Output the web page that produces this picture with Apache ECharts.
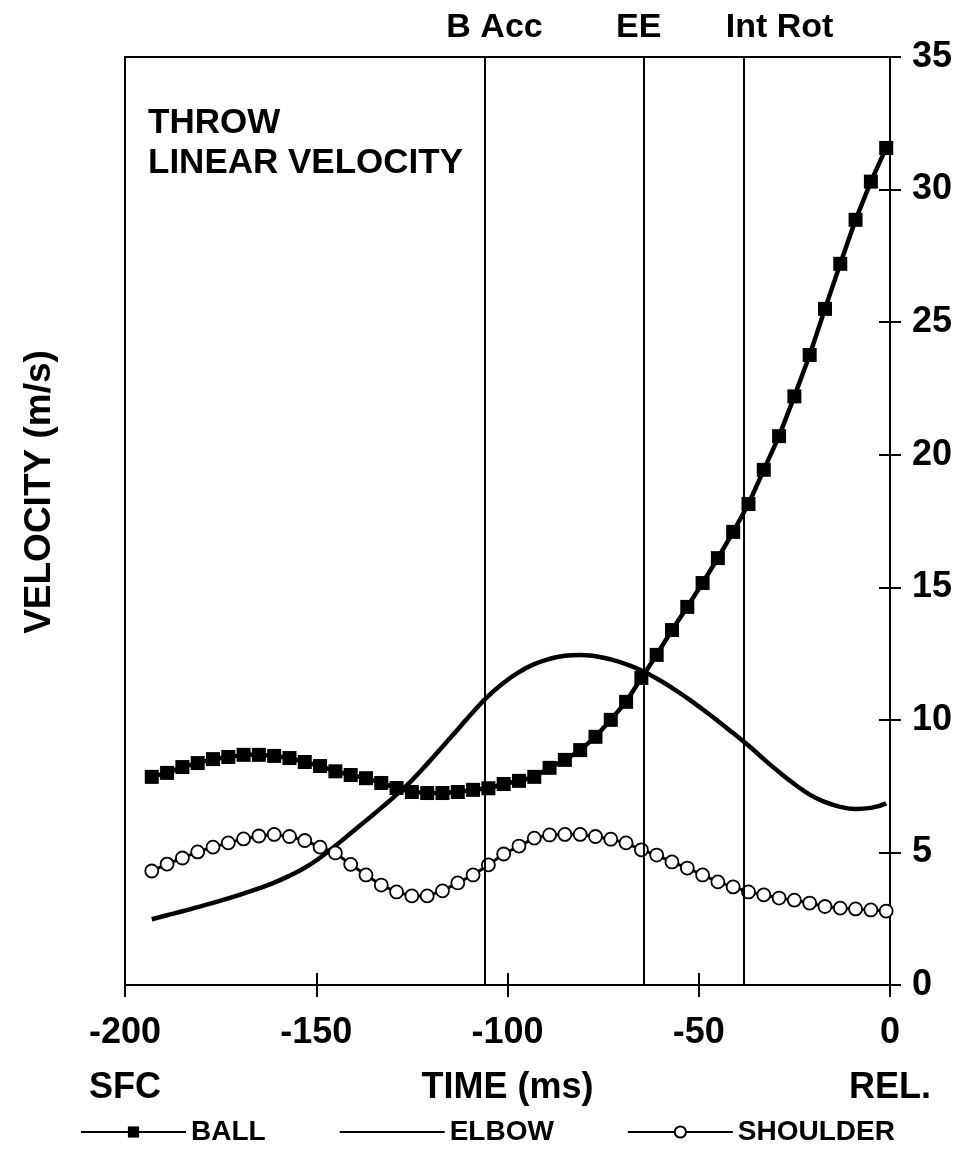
<!DOCTYPE html>
<html>
<head>
<meta charset="utf-8">
<script src="https://cdn.jsdelivr.net/npm/echarts@6/dist/echarts.min.js"></script>
<style>
  html, body { margin: 0; padding: 0; background: #fff; }
  #chart { width: 970px; height: 1161px; }
</style>
</head>
<body>
<div id="chart"></div>
<script>
// time (ms) relative to release, sampled every 4 ms
const times = [
  -193, -189, -185, -181, -177, -173, -169, -165, -161, -157,
  -153, -149, -145, -141, -137, -133, -129, -125, -121, -117,
  -113, -109, -105, -101, -97, -93, -89, -85, -81, -77,
  -73, -69, -65, -61, -57, -53, -49, -45, -41, -37,
  -33, -29, -25, -21, -17, -13, -9, -5, -1
]
const ball = [
  7.85, 8.0, 8.22, 8.37, 8.52, 8.6, 8.68, 8.68, 8.64, 8.56,
  8.41, 8.26, 8.06, 7.92, 7.8, 7.62, 7.43, 7.28, 7.24, 7.24,
  7.28, 7.36, 7.42, 7.58, 7.7, 7.85, 8.19, 8.49, 8.86, 9.36,
  10.0, 10.68, 11.58, 12.45, 13.39, 14.26, 15.16, 16.1, 17.09, 18.14,
  19.43, 20.7, 22.2, 23.76, 25.5, 27.2, 28.86, 30.3, 31.57
]
const elbow = [
  2.48, 2.63, 2.78, 2.94, 3.1, 3.27, 3.45, 3.64, 3.86, 4.12,
  4.42, 4.8, 5.25, 5.72, 6.2, 6.68, 7.18, 7.72, 8.34, 8.99,
  9.64, 10.3, 10.9, 11.4, 11.8, 12.1, 12.3, 12.42, 12.45, 12.4,
  12.28, 12.1, 11.86, 11.56, 11.21, 10.82, 10.4, 9.96, 9.5, 9.03,
  8.52, 8.03, 7.58, 7.18, 6.9, 6.72, 6.64, 6.68, 6.85
]
const shoulder = [
  4.3, 4.56, 4.79, 5.02, 5.2, 5.36, 5.51, 5.62, 5.68, 5.6,
  5.45, 5.2, 4.98, 4.55, 4.15, 3.77, 3.51, 3.36, 3.36, 3.55,
  3.85, 4.15, 4.53, 4.94, 5.24, 5.54, 5.66, 5.68, 5.68, 5.6,
  5.5, 5.36, 5.1, 4.9, 4.64, 4.41, 4.15, 3.89, 3.7, 3.51,
  3.4, 3.28, 3.2, 3.09, 2.96, 2.9, 2.87, 2.83, 2.79
]
// phase events (ms)
const eventNames = ['B Acc', 'EE', 'Int Rot']
const eventTimes = [-106, -64.4, -38.3]
const xPhaseLabels = { '-200': 'SFC', '-100': 'TIME (ms)', '0': 'REL.' }

const FONT = '"Liberation Sans", Arial, Helvetica, sans-serif'
const pair = (arr) => times.map((t, i) => [t, arr[i]])

const chart = echarts.init(document.getElementById('chart'), null, { renderer: 'canvas' })

const gridBox = { left: 125, right: 80, top: 57, bottom: 176 }
const tickStyle = { color: '#000', width: 2 }

const baseX = {
  type: 'value', min: -200, max: 0, interval: 50,
  position: 'bottom',
  splitLine: { show: false }
}
const baseY = {
  type: 'value', min: 0, max: 35, interval: 5,
  position: 'right',
  splitLine: { show: false }
}

chart.setOption({
  backgroundColor: '#fff',
  animation: false,
  textStyle: { fontFamily: FONT },
  title: {
    text: 'THROW\nLINEAR VELOCITY',
    left: 143, top: 98,
    textStyle: { fontFamily: FONT, fontWeight: 'bold', fontSize: 35, lineHeight: 40, color: '#000' }
  },
  // grid 1 only holds the tick marks that cross the axis lines
  grid: [
    Object.assign({ show: true, borderColor: '#000', borderWidth: 2 }, gridBox),
    Object.assign({ show: false }, gridBox)
  ],
  legend: {
    bottom: 10, left: 75,
    itemWidth: 105, itemHeight: 14, itemGap: 73,
    data: ['BALL', { name: 'ELBOW', itemStyle: { opacity: 0 } }, 'SHOULDER'],
    textStyle: { fontFamily: FONT, fontWeight: 'bold', fontSize: 28, color: '#000', width: 110 }
  },
  graphic: [{
    type: 'text', x: 40, y: 492, rotation: Math.PI / 2,
    style: {
      text: 'VELOCITY (m/s)', fill: '#000',
      font: 'bold 37px ' + FONT, align: 'center', verticalAlign: 'middle'
    }
  }],
  xAxis: [
    Object.assign({}, baseX, {
      gridIndex: 0,
      axisLine: { show: true, onZero: false, lineStyle: { color: '#000', width: 2 } },
      axisTick: { show: false },
      axisLabel: {
        margin: 21, color: '#000',
        formatter: (v) => {
          const sub = xPhaseLabels[String(v)]
          return sub ? '{a|' + v + '}\n{b|' + sub + '}' : '{a|' + v + '}'
        },
        rich: {
          a: { fontFamily: FONT, fontWeight: 'bold', fontSize: 36, lineHeight: 55, color: '#000' },
          b: { fontFamily: FONT, fontWeight: 'bold', fontSize: 36, lineHeight: 55, color: '#000' }
        }
      }
    }),
    Object.assign({}, baseX, {
      gridIndex: 1, offset: -12,
      axisLine: { show: false, onZero: false },
      axisTick: { show: true, inside: false, length: 24, lineStyle: tickStyle },
      axisLabel: { show: false }
    })
  ],
  yAxis: [
    Object.assign({}, baseY, {
      gridIndex: 0,
      axisLine: { show: true, onZero: false, lineStyle: { color: '#000', width: 2 } },
      axisTick: { show: false },
      axisLabel: {
        margin: 22, color: '#000',
        fontFamily: FONT, fontWeight: 'bold', fontSize: 36
      }
    }),
    Object.assign({}, baseY, {
      gridIndex: 1, offset: -11,
      axisLine: { show: false, onZero: false },
      axisTick: { show: true, inside: false, length: 22, lineStyle: tickStyle },
      axisLabel: { show: false }
    })
  ],
  series: [
    {
      name: 'ELBOW', type: 'line', smooth: 0.5, symbol: 'none',
      data: pair(elbow),
      lineStyle: { color: '#000', width: 4.5 },
      itemStyle: { color: '#000' },
      z: 2,
      markLine: {
        silent: true, symbol: 'none',
        lineStyle: { color: '#000', width: 2, type: 'solid' },
        label: {
          show: true, position: 'end', distance: 12,
          fontFamily: FONT, fontWeight: 'bold', fontSize: 34, color: '#000'
        },
        data: eventTimes.map((t, i) => ({
          xAxis: t,
          label: { formatter: eventNames[i], offset: [i === 2 ? 36 : (i === 0 ? 10 : -5), 0] }
        }))
      }
    },
    {
      name: 'SHOULDER', type: 'line', data: pair(shoulder),
      symbol: 'circle', symbolSize: 13,
      lineStyle: { color: '#000', width: 3 },
      itemStyle: { color: '#fff', borderColor: '#000', borderWidth: 1.8 },
      z: 3
    },
    {
      name: 'BALL', type: 'line', data: pair(ball),
      symbol: 'rect', symbolSize: 14,
      lineStyle: { color: '#000', width: 4.5 },
      itemStyle: { color: '#000' },
      z: 4
    }
  ]
})
</script>
</body>
</html>
